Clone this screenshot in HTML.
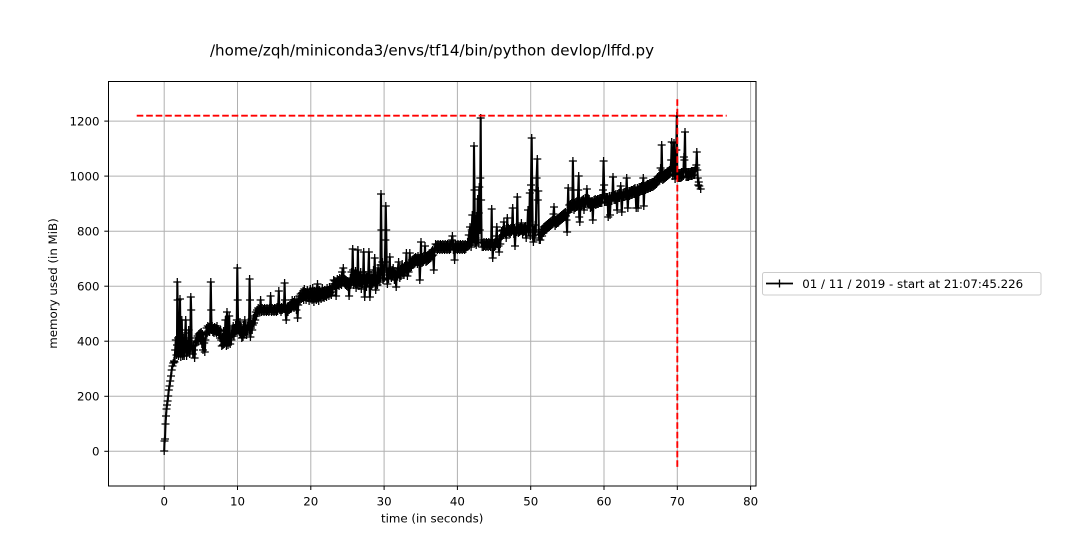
<!DOCTYPE html>
<html><head><meta charset="utf-8"><style>
html,body{margin:0;padding:0;background:#fff;}
svg{display:block;}
text{font-family:"DejaVu Sans","Liberation Sans",sans-serif;fill:#000;}
</style></head><body>
<svg width="1080" height="540" viewBox="0 0 1080 540" xmlns="http://www.w3.org/2000/svg">
<defs>
<marker id="p" markerWidth="10" markerHeight="10" refX="0" refY="0" markerUnits="userSpaceOnUse" overflow="visible"><path d="M-4 0H4M0 -4V4" stroke="#000" stroke-width="1.3" fill="none"/></marker>
</defs>
<rect width="1080" height="540" fill="#fff"/>
<text x="432" y="55.5" font-size="15.1" text-anchor="middle">/home/zqh/miniconda3/envs/tf14/bin/python devlop/lffd.py</text>
<!-- grid -->
<g stroke="#b0b0b0" stroke-width="1">
<line x1="164.2" y1="81.5" x2="164.2" y2="486"/>
<line x1="237.5" y1="81.5" x2="237.5" y2="486"/>
<line x1="310.8" y1="81.5" x2="310.8" y2="486"/>
<line x1="384.1" y1="81.5" x2="384.1" y2="486"/>
<line x1="457.4" y1="81.5" x2="457.4" y2="486"/>
<line x1="530.7" y1="81.5" x2="530.7" y2="486"/>
<line x1="604" y1="81.5" x2="604" y2="486"/>
<line x1="677.3" y1="81.5" x2="677.3" y2="486"/>
<line x1="750.6" y1="81.5" x2="750.6" y2="486"/>
<line x1="108.5" y1="451.3" x2="756" y2="451.3"/>
<line x1="108.5" y1="396.3" x2="756" y2="396.3"/>
<line x1="108.5" y1="341.2" x2="756" y2="341.2"/>
<line x1="108.5" y1="286.2" x2="756" y2="286.2"/>
<line x1="108.5" y1="231.2" x2="756" y2="231.2"/>
<line x1="108.5" y1="176.1" x2="756" y2="176.1"/>
<line x1="108.5" y1="121.1" x2="756" y2="121.1"/>
</g>
<!-- series -->
<polyline fill="none" stroke="#000" stroke-width="2.1" stroke-linejoin="round" marker-start="url(#p)" marker-mid="url(#p)" marker-end="url(#p)" points="
164.2,451 164.5,441 165,439 165.5,424 166,416 166.5,409 167,405 167.6,401 168.2,396 168.8,390 169.5,386 170.2,381 171,376 171.7,370 172.5,366 173.3,363 174,361
174.5,362 175.2,350 175.8,340 176.5,355 177.0,345 177.3,282 177.6,300 178.0,338 178.5,356 179,348 179.5,340 180,299 180.4,330 180.8,357 181.3,345 181.8,320 182.2,345 182.7,356 183.2,350 183.7,338 184.2,356 184.7,346 185.2,333 185.7,320 186.1,340 186.6,356 187.1,350 187.6,344 188.2,352 188.7,330 189.2,347 189.7,354 190.3,345 190.8,297 191.2,310 191.6,343 192.2,350 192.8,354 193.4,346 194,350 194.6,358 195.2,345 195.8,341 196.4,338 197,342 197.6,336 198.2,340 198.8,334 199.4,338 200,333 200.6,340 201.2,332 201.8,344 202.4,334 203,350 203.6,338 204.2,343 204.8,352 205.4,340 206,335
206.6,328 207.2,333 207.8,326 208.4,331 209,327 209.6,332 210.2,328 210.8,282 211.2,310 211.6,330 212.2,326 212.8,332 213.4,328 214,333 214.6,327 215.2,331 215.8,328 216.4,333 217,326 217.6,332 218.2,329 218.8,335 219.4,331 220,338 220.6,330 221.2,340 221.8,346 222.4,337 223,345 223.6,331 224.2,344 224.8,338 225.4,320 225.8,340 226.4,346 227,312 227.4,335 228,345 228.6,336 229.2,316 229.6,332 230.2,344 230.8,338 231.4,340 232,330 232.6,334 233.2,326 233.8,336 234.4,328 235,333 235.6,325 236.2,331 236.8,320 237.3,268 237.7,300 238.2,330 238.8,325 239.4,332 240,322 240.6,334 241.2,327 241.8,338 242.4,330 243,337 243.6,325 244.2,334 244.8,320 245.4,332 246,327 246.6,335 247.2,330 247.8,326 248.4,322 249,330 249.6,279 250,300 250.4,337 251,328 251.6,324 252.2,330 252.8,325 253.4,318 254,323 254.6,316 255.2,320 255.8,312 256.4,316
257,310 257.6,313 258.2,308 258.8,311 259.4,309 260,312 260.6,300 261,309 261.6,312 262.2,308 262.8,311 263.4,309 264,312 264.6,308 265.2,311 265.8,309 266.4,312 267,308 267.6,311 268.2,309 268.8,312 269.4,308 270,311 270.6,296 271,309 271.6,312 272.2,308 272.8,311 273.4,309 274,312 274.6,308 275.2,311 275.8,309 276.4,312 277,307 277.6,311 278.2,305 278.8,291 279.2,305 279.8,310 280.4,308 281,312 281.6,307 282.2,310 282.8,308 283.4,305 284,309 284.6,283 285,300 285.6,312 286.2,320 286.8,310 287.4,307 288,312 288.6,306 289.2,310 289.8,305 290.4,309 291,303 291.6,308 292.2,300 292.8,306 293.4,302 294,308 294.6,300 295.2,306 295.8,303 296.4,310 297,300 297.6,318 298.2,305 298.8,299
299.5,296 300.1,301 300.7,294 301.3,299 301.9,293 302.5,298 303.1,291 303.7,300 304.3,289 304.9,297 305.5,292 306.1,300 306.7,294 307.3,290 307.9,298 308.5,293 309.1,301 309.7,295 310.3,289 310.9,297 311.5,292 312.1,300 312.7,288 313.3,296 313.9,302 314.5,291 315.1,298 315.7,293 316.3,300 316.9,289 317.5,284 318.1,296 318.7,301 319.3,290 319.9,297 320.5,292 321.1,299 321.7,293 322.3,288 322.9,297 323.5,291 324.1,298 324.7,290 325.3,296 325.9,291 326.5,297 327.1,288 327.7,294 328.3,290 328.9,296 329.5,287 330.1,293 330.7,289 331.3,295 331.9,287 332.5,292
333.1,284 333.7,280 334.3,286 334.9,281 335.5,287 336.1,296 336.7,283 337.3,279 337.9,285 338.5,280 339.1,286 339.7,278 340.3,284 340.9,279 341.5,285 342.1,272 342.7,280 343.3,268 343.7,278 344.3,283 344.9,279 345.5,285 346.1,280 346.7,286 347.3,281 347.9,287 348.5,282 349.1,296 349.7,283
350.3,278 350.9,285 351.5,272 352.1,282 352.7,249 353.1,270 353.7,285 354.3,276 354.9,283 355.5,271 356.1,288 356.7,279 357.3,284 357.9,250 358.3,272 358.9,286 359.5,276 360.1,283 360.7,272 361.3,289 361.9,278 362.5,284 363.1,276 363.7,252 364.1,280 364.7,297 365.3,282 365.9,275 366.5,287 367.1,277 367.7,283 368.3,272 368.9,252 369.3,278 369.9,297 370.5,283 371.1,275 371.7,286 372.3,278 372.9,284 373.5,270 374.1,281 374.7,258 375.1,276 375.7,290 376.3,282 376.9,275 377.5,285 378.1,268 378.7,280 379.3,273 379.9,282 380.5,265
381,194 381.4,230 381.8,275 382.4,262 383,280 383.6,270 384.2,278 384.8,262 385.4,240 385.8,206 386.2,230 386.8,270 387.4,284 388,272 388.6,279 389.2,268 389.8,257 390.2,275
390.8,272 391.4,278 392,270 392.6,276 393.2,268 393.8,274 394.4,280 395,271 395.6,277 396.2,287 396.8,272 397.4,276 398,268 398.6,262 399.2,274 399.8,278 400.4,269 401,276 401.6,270 402.2,264 402.8,273 403.4,268 404,275 404.6,266 405.2,272 405.8,268 406.4,253 406.8,270 407.4,276 408,266 408.6,272 409.2,265 409.8,253 410.2,268
410.8,262 411.4,267 412,260 412.6,265 413.2,259 413.8,264 414.4,258 415,263 415.6,257 416.2,262 416.8,258 417.4,264 418,256 418.6,262 419.2,258 419.8,280 420.4,264 421,242 421.4,258 422,263 422.6,257 423.2,262 423.8,256 424.4,260 425,246 425.4,258 426,262 426.6,256 427.2,261 427.8,255 428.4,260 429,254 429.6,259 430.2,253 430.8,258 431.4,252 432,256 432.6,250 433.2,255 433.8,270 434.4,250
435,248 435.6,244 436.2,249 436.8,245 437.4,250 438,244 438.6,249 439.2,245 439.8,250 440.4,244 441,249 441.6,245 442.2,250 442.8,244 443.4,249 444,245 444.6,250 445.2,244 445.8,249 446.4,245 447,250 447.6,244 448.2,249 448.8,245 449.4,250 450,244 450.6,249 451.2,245 451.8,240 452.4,236 452.8,246 453.4,250 454,244 454.6,260 455,249 455.6,244 456.2,249 456.8,245 457.4,250 458,244 458.6,249 459.2,245 459.8,250 460.4,244 461,249 461.6,245 462.2,250 462.8,244 463.4,249 464,245 464.6,250 465.2,244 465.8,249 466.4,245 467,247
467.6,242 468.2,246 468.8,235 469.4,245 470,227 470.5,242 471.1,247 471.7,230 472.3,215 472.9,242 473.5,225 474,146 474.5,190 475,243 475.6,238 476.2,245 476.7,216 477.2,240 477.7,199 478.2,243 478.8,213 479.3,187 479.8,230 480.3,178 480.7,118 481.1,200 481.6,242 482.2,247
482.8,243 483.4,247 484,242 484.6,246 485.2,243 485.8,247 486.4,242 487,246 487.6,243 488.2,247 488.8,242 489.4,246 490,243 490.6,247 491.2,242 491.7,209 492.1,240 492.7,258 493.3,247 493.9,243 494.5,247 495.1,242 495.7,246 496.3,236 496.8,227 497.3,244 497.9,240 498.5,246 499.1,252 499.7,238 500.3,244
500.9,236 501.5,231 502.1,236 502.7,230 503.3,235 503.9,222 504.4,233 505,229 505.6,234 506.2,238 506.8,230 507.3,218 507.8,232 508.4,228 509,233 509.6,229 510.2,234 510.8,228 511.4,232 512,227 512.7,208 513.2,230 513.8,234 514.4,228 515,246 515.6,232 516.2,227 516.8,232 517.3,197 517.8,228 518.4,233 519,228 519.6,232 520.2,227 520.8,231 521.4,223 522,230 522.6,234 523.2,228 523.8,232 524.4,227 525,231 525.6,226 526.2,238 526.8,230 527.4,226 528,210 528.6,232 529.2,226 529.8,193 530.3,236
531,185 531.7,138 532.2,190 532.8,236 533.4,242 534,230 534.6,238 535.2,225 535.8,232 536.6,178 537.3,159 537.8,200 538.3,191 538.8,232 539.3,240 539.8,235 540.3,240
540.9,234 541.5,230 542.1,236 542.7,229 543.3,233 543.9,227 544.5,231 545.1,226 545.7,230 546.3,225 546.9,229 547.5,224 548.1,228 548.7,223 549.3,227 549.9,222 550.5,226 551.1,221 551.7,225 552.3,220 552.9,224 553.5,214 554,207 554.5,222 555.1,226 555.7,220 556.3,224 556.9,219 557.5,223 558.1,218 558.7,222 559.3,217 559.9,221 560.5,216 561.1,220 561.7,215 562.3,219 562.9,214 563.5,218 564.1,213 564.7,217 565.3,212 565.9,216 566.5,220 567.1,232 567.6,210
568.2,188 568.7,212 569.3,205 569.9,210 570.5,204 571.1,209 571.7,203 572.3,207 572.9,161 573.4,190 574,210 574.6,203 575.2,208 575.8,202 576.4,207 577,201 577.6,206 578.2,190 578.7,176 579.2,217 579.8,222 580.4,206 581,201 581.6,206 582.2,200 582.8,205 583.4,199 584,210 584.6,203 585.2,198 585.8,204 586.4,199 586.9,189 587.4,203 588,198 588.6,204 589.2,199 589.8,203
590.4,208 591,202 591.6,207 592.2,201 592.8,220 593.4,205 594,200 594.6,204 595.2,199 595.8,205 596.4,200 597,204 597.6,199 598.2,204 598.8,199 599.4,203 600,198 600.6,203 601.2,198 601.8,203 602.4,198 603,190 603.6,161 604.1,185 604.6,202 605.2,197 605.8,202 606.4,197 607,202 607.6,197 608.2,217 608.8,201 609.4,196 610,215 610.6,201 611.2,196 611.8,201 612.4,196 613,177 613.5,195 614.1,200 614.7,195 615.3,200 615.9,194 616.5,199 617.1,210 617.7,194 618.3,198 618.9,193 619.5,198 620.1,193 620.7,186 621.2,197 621.8,212 622.4,197 623,193 623.6,197 624.2,192 624.8,197 625.4,192 626,196 626.7,178 627.2,194 627.8,208 628.4,196 629,191 629.6,196 630.2,191 630.8,195 631.4,190 632,195 632.6,190 633.2,194 633.8,189 634.4,194 635,188 635.6,193 636.2,208 636.8,193 637.4,188 638,208 638.6,192 639.2,187 639.8,192 640.4,187 641,191 641.6,186 642.2,191 642.8,187 643.3,178 643.8,206 644.4,190 645,186 645.6,190 646.2,185 646.8,189 647.4,184 648,189 648.6,184 649.2,188 649.8,183 650.4,188 651,183 651.6,187 652.2,182 652.8,187 653.4,182 654,186 654.6,181 655.2,185 655.8,180 656.4,184
657,182 657.6,177 658.2,181 658.8,176 659.4,180 660,175 660.6,168 661.2,179 661.7,145 662.2,170 662.8,180 663.4,175 664,179 664.6,174 665.2,178 665.8,173 666.4,177 667,172 667.6,176 668.2,171 668.8,175 669.4,170 670,174 670.6,168 671.2,160 671.7,142 672.2,169 672.8,176 673.4,170 674,143 674.5,175 675.1,179 675.7,170 676.3,150 676.8,116 677.3,175 677.9,178
678.5,178 679.1,173 679.7,178 680.3,173 680.9,178 681.5,172 682.1,177 682.7,172 683.3,176 683.9,157 684.4,160 685,132 685.5,170 686.1,177 686.7,172 687.3,177 687.9,172 688.5,177 689.1,172 689.7,176 690.3,172 690.9,176 691.5,171 692.1,176 692.7,171 693.3,175 693.9,171 694.5,175 695.1,170 695.7,168 696.3,165 696.8,152 697.3,170 697.8,178 698.3,185 698.8,182 699.3,186 700.7,189"/>
<!-- red dashed lines -->
<line x1="136.7" y1="115.7" x2="726.7" y2="115.7" stroke="#ff0000" stroke-width="1.9" stroke-dasharray="6.6 2.9"/>
<line x1="677.3" y1="99.3" x2="677.3" y2="467.3" stroke="#ff0000" stroke-width="1.9" stroke-dasharray="6.6 2.9"/>
<!-- axes frame -->
<rect x="108.5" y="81.5" width="647.5" height="404.5" fill="none" stroke="#000" stroke-width="1"/>
<!-- ticks -->
<g stroke="#000" stroke-width="1">
<line x1="164.2" y1="486" x2="164.2" y2="490"/>
<line x1="237.5" y1="486" x2="237.5" y2="490"/>
<line x1="310.8" y1="486" x2="310.8" y2="490"/>
<line x1="384.1" y1="486" x2="384.1" y2="490"/>
<line x1="457.4" y1="486" x2="457.4" y2="490"/>
<line x1="530.7" y1="486" x2="530.7" y2="490"/>
<line x1="604" y1="486" x2="604" y2="490"/>
<line x1="677.3" y1="486" x2="677.3" y2="490"/>
<line x1="750.6" y1="486" x2="750.6" y2="490"/>
<line x1="104.3" y1="451.3" x2="108.5" y2="451.3"/>
<line x1="104.3" y1="396.3" x2="108.5" y2="396.3"/>
<line x1="104.3" y1="341.2" x2="108.5" y2="341.2"/>
<line x1="104.3" y1="286.2" x2="108.5" y2="286.2"/>
<line x1="104.3" y1="231.2" x2="108.5" y2="231.2"/>
<line x1="104.3" y1="176.1" x2="108.5" y2="176.1"/>
<line x1="104.3" y1="121.1" x2="108.5" y2="121.1"/>
</g>
<g font-size="11.8" text-anchor="middle">
<text x="164.2" y="505.3">0</text>
<text x="237.5" y="505.3">10</text>
<text x="310.8" y="505.3">20</text>
<text x="384.1" y="505.3">30</text>
<text x="457.4" y="505.3">40</text>
<text x="530.7" y="505.3">50</text>
<text x="604" y="505.3">60</text>
<text x="677.3" y="505.3">70</text>
<text x="750.6" y="505.3">80</text>
</g>
<g font-size="11.8" text-anchor="end">
<text x="99.5" y="455.6">0</text>
<text x="99.5" y="400.6">200</text>
<text x="99.5" y="345.5">400</text>
<text x="99.5" y="290.5">600</text>
<text x="99.5" y="235.5">800</text>
<text x="99.5" y="180.4">1000</text>
<text x="99.5" y="125.4">1200</text>
</g>
<text x="432.2" y="522.5" font-size="11.8" text-anchor="middle">time (in seconds)</text>
<text transform="translate(57,283.5) rotate(-90)" font-size="11.8" text-anchor="middle">memory used (in MiB)</text>
<!-- legend -->
<rect x="762.5" y="272.5" width="278.5" height="22.5" rx="2" ry="2" fill="#fff" stroke="#cccccc" stroke-width="1"/>
<line x1="766" y1="283.5" x2="793" y2="283.5" stroke="#000" stroke-width="1.8"/>
<path d="M775.5 283.5H783.5M779.5 279.5V287.5" stroke="#000" stroke-width="1.3"/>
<text x="802.3" y="287.8" font-size="11.8">01 / 11 / 2019 - start at 21:07:45.226</text>
</svg>
</body></html>
